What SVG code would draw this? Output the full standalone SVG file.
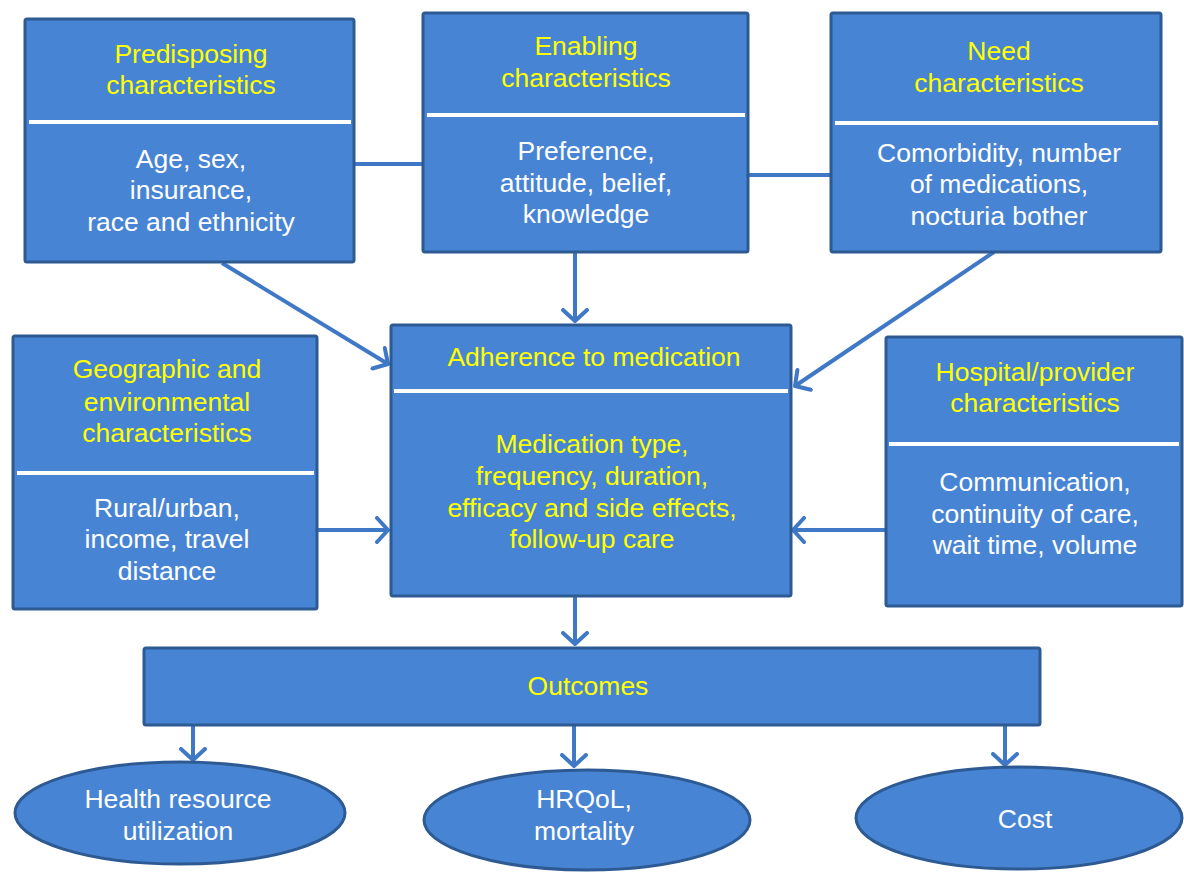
<svg xmlns="http://www.w3.org/2000/svg" width="1184" height="873" viewBox="0 0 1184 873">
<defs>
<style>
.box{fill:#4884D4;stroke:#2D5A92;stroke-width:3}
.div{stroke:#FFFFFF;stroke-width:4}
text{font-family:"Liberation Sans",Arial,sans-serif;font-size:26.5px;text-anchor:middle}
.y{fill:#FFFF00}
.w{fill:#FFFFFF}
.con{stroke:#3F78C6;stroke-width:4;fill:none}
.arr{marker-end:url(#ah)}
</style>
<marker id="ah" markerUnits="userSpaceOnUse" markerWidth="16" markerHeight="28" refX="13" refY="14" orient="auto" viewBox="0 0 16 28">
<path d="M2,2 L13,14 L2,26" fill="none" stroke="#3F78C6" stroke-width="4" stroke-linecap="round" stroke-linejoin="round"/>
</marker>
</defs>
<rect width="1184" height="873" fill="#FFFFFF"/>
<g id="connectors">
<line class="con" x1="354" y1="164" x2="423" y2="164"/>
<line class="con" x1="748" y1="175" x2="831" y2="175"/>
<line class="con arr" x1="222" y1="263" x2="388" y2="364"/>
<line class="con arr" x1="575" y1="252" x2="575" y2="321"/>
<line class="con arr" x1="994" y1="252" x2="795" y2="386"/>
<line class="con arr" x1="317" y1="530" x2="388" y2="530"/>
<line class="con arr" x1="886" y1="530" x2="793" y2="530"/>
<line class="con arr" x1="575" y1="597" x2="575" y2="644"/>
<line class="con arr" x1="193" y1="726" x2="193" y2="760"/>
<line class="con arr" x1="574" y1="726" x2="574" y2="766"/>
<line class="con arr" x1="1005" y1="726" x2="1005" y2="765"/>
</g>
<g id="predisposing">
<rect class="box" x="25" y="19" width="329" height="243" rx="2"/>
<line class="div" x1="29" y1="122" x2="351" y2="122"/>
<text class="y" x="191" y="63">Predisposing</text>
<text class="y" x="191" y="94">characteristics</text>
<text class="w" x="191" y="168">Age, sex,</text>
<text class="w" x="191" y="199">insurance,</text>
<text class="w" x="191" y="231">race and ethnicity</text>
</g>
<g id="enabling">
<rect class="box" x="423" y="13" width="325" height="239" rx="2"/>
<line class="div" x1="427" y1="115" x2="745" y2="115"/>
<text class="y" x="586" y="55">Enabling</text>
<text class="y" x="586" y="87">characteristics</text>
<text class="w" x="586" y="160">Preference,</text>
<text class="w" x="586" y="192">attitude, belief,</text>
<text class="w" x="586" y="223">knowledge</text>
</g>
<g id="need">
<rect class="box" x="831" y="13" width="330" height="239" rx="2"/>
<line class="div" x1="835" y1="123" x2="1158" y2="123"/>
<text class="y" x="999" y="60">Need</text>
<text class="y" x="999" y="92">characteristics</text>
<text class="w" x="999" y="162">Comorbidity, number</text>
<text class="w" x="999" y="193">of medications,</text>
<text class="w" x="999" y="225">nocturia bother</text>
</g>
<g id="geographic">
<rect class="box" x="13" y="336" width="304" height="273" rx="2"/>
<line class="div" x1="17" y1="473" x2="314" y2="473"/>
<text class="y" x="167" y="378">Geographic and</text>
<text class="y" x="167" y="411">environmental</text>
<text class="y" x="167" y="442">characteristics</text>
<text class="w" x="167" y="517">Rural/urban,</text>
<text class="w" x="167" y="548">income, travel</text>
<text class="w" x="167" y="580">distance</text>
</g>
<g id="adherence">
<rect class="box" x="391" y="325" width="400" height="271" rx="2"/>
<line class="div" x1="394" y1="391" x2="788" y2="391"/>
<text class="y" x="594" y="366">Adherence to medication</text>
<text class="y" x="592" y="453">Medication type,</text>
<text class="y" x="592" y="485">frequency, duration,</text>
<text class="y" x="592" y="517">efficacy and side effects,</text>
<text class="y" x="592" y="548">follow-up care</text>
</g>
<g id="hospital">
<rect class="box" x="886" y="337" width="296" height="269" rx="2"/>
<line class="div" x1="889" y1="444" x2="1179" y2="444"/>
<text class="y" x="1035" y="381">Hospital/provider</text>
<text class="y" x="1035" y="412">characteristics</text>
<text class="w" x="1035" y="491">Communication,</text>
<text class="w" x="1035" y="523">continuity of care,</text>
<text class="w" x="1035" y="554">wait time, volume</text>
</g>
<g id="outcomes">
<rect class="box" x="144" y="648" width="896" height="77" rx="2"/>
<text class="y" x="588" y="695">Outcomes</text>
</g>
<g id="health-resource">
<ellipse class="box" cx="180" cy="813" rx="165" ry="51"/>
<text class="w" x="178" y="808">Health resource</text>
<text class="w" x="178" y="840">utilization</text>
</g>
<g id="hrqol">
<ellipse class="box" cx="587" cy="820" rx="163" ry="50"/>
<text class="w" x="584" y="808">HRQoL,</text>
<text class="w" x="584" y="840">mortality</text>
</g>
<g id="cost">
<ellipse class="box" cx="1019" cy="818" rx="163" ry="51"/>
<text class="w" x="1025" y="828">Cost</text>
</g>
</svg>
